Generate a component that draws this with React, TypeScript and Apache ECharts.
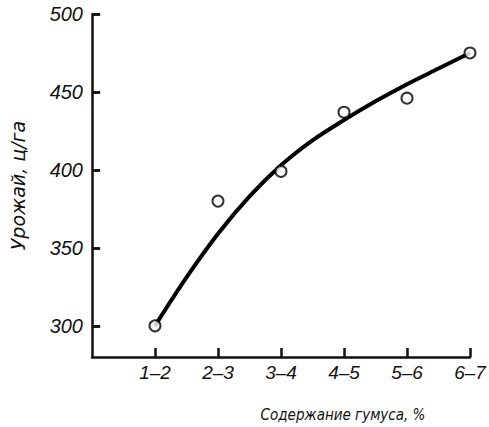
import React, { useEffect, useRef } from "react";
import * as echarts from "echarts";

const categories = ["1–2", "2–3", "3–4", "4–5", "5–6", "6–7"];
const observedYield = [300, 380, 399, 437, 446, 475];
// fitted curve at whole and half category steps
const curvePositions = [1, 1.5, 2, 2.5, 3, 3.5, 4, 4.5, 5, 5.5, 6];
const curveValues = [300, 331, 359, 383, 403, 419, 432, 444, 455, 465, 475];
const yTicks = [300, 350, 400, 450, 500];
const xAxisName = "Содержание гумуса, %";
const yAxisName = "Урожай, ц/га";

export default function App() {
  const ref = useRef<HTMLDivElement>(null);
  useEffect(() => {
    if (!ref.current) return;
    const chart = echarts.init(ref.current, null, { renderer: "svg" });
    const positions = categories.map((_, i) => i + 1);
    const numFont = "'Liberation Sans', Arial, sans-serif";
    const nameFont = "'Liberation Sans Narrow', 'DejaVu Sans Condensed', 'Liberation Sans', sans-serif";
    chart.setOption({
      animation: false,
      backgroundColor: "#ffffff",
      grid: { left: 88, right: 19, top: 14, bottom: 64, containLabel: false },
      xAxis: {
        type: "value",
        min: 0,
        max: 6,
        interval: 1,
        name: xAxisName,
        nameLocation: "middle",
        nameGap: 50,
        nameTextStyle: {
          fontFamily: nameFont,
          fontStyle: "italic",
          fontSize: 15,
          color: "#111",
          padding: [0, 0, 0, 124],
        },
        splitLine: { show: false },
        axisLine: { show: true, onZero: false, lineStyle: { color: "#111", width: 2.5 } },
        axisTick: {
          show: true,
          inside: true,
          length: 9,
          lineStyle: { color: "#111", width: 2.5 },
        },
        axisLabel: {
          showMinLabel: false,
          formatter: (v: number) => categories[Math.round(v) - 1] ?? "",
          fontFamily: numFont,
          fontStyle: "italic",
          fontSize: 19,
          color: "#111",
          margin: 6,
        },
      },
      yAxis: {
        type: "value",
        min: 280,
        max: 500,
        splitNumber: 5,
        name: yAxisName,
        nameLocation: "middle",
        nameGap: 65,
        nameTextStyle: {
          fontFamily: "'DejaVu Sans', sans-serif",
          fontStyle: "italic",
          fontSize: 19,
          color: "#111",
        },
        splitLine: { show: false },
        axisLine: { show: true, onZero: false, lineStyle: { color: "#111", width: 2.5 } },
        axisTick: {
          show: true,
          inside: true,
          length: 8,
          lineStyle: { color: "#111", width: 2.5 },
        },
        axisLabel: {
          showMinLabel: false,
          formatter: (v: number) => (yTicks.includes(v) ? String(v) : ""),
          fontFamily: numFont,
          fontStyle: "italic",
          fontSize: 20,
          color: "#111",
          margin: 9,
        },
      },
      series: [
        {
          type: "line",
          data: curvePositions.map((x, i) => [x, curveValues[i]]),
          smooth: 0.3,
          showSymbol: false,
          symbol: "none",
          lineStyle: { color: "#000", width: 4 },
          z: 2,
          markLine: {
            silent: true,
            symbol: ["none", "none"],
            label: { show: false },
            lineStyle: { color: "#111", width: 2.5, type: "solid" },
            data: yTicks.map((v) => [{ coord: [0, v] }, { coord: [0.13, v] }]),
          },
        },
        {
          type: "scatter",
          data: positions.map((x, i) => [x, observedYield[i]]),
          symbol: "circle",
          symbolSize: 11,
          itemStyle: { color: "#fff", borderColor: "#000", borderWidth: 2 },
          z: 3,
        },
      ],
    });
    return () => chart.dispose();
  }, []);
  return (
    <div
      ref={ref}
      style={{ position: "fixed", left: 0, top: 0, width: 489, height: 427, background: "#fff" }}
    />
  );
}
